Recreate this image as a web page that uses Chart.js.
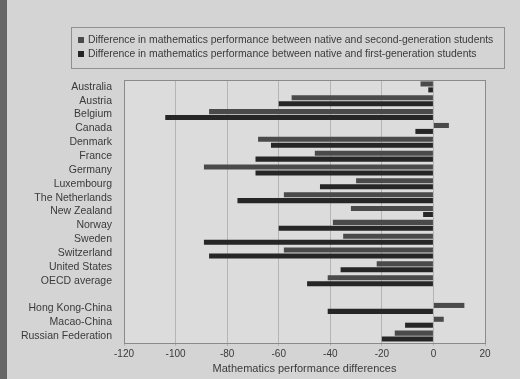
<!DOCTYPE html>
<html>
<head>
<meta charset="utf-8">
<script src="https://cdn.jsdelivr.net/npm/chart.js@4"></script>
<style>
  html, body { margin: 0; padding: 0; background: #d4d4d4; }
  #wrap { width: 520px; height: 379px; position: relative; }
</style>
</head>
<body>
<div id="wrap"><canvas id="grafico"></canvas></div>
<script>
// datos
const paises = ["Australia", "Austria", "Belgium", "Canada", "Denmark", "France", "Germany",
    "Luxembourg", "The Netherlands", "New Zealand", "Norway", "Sweden", "Switzerland",
    "United States", "OECD average", "", "Hong Kong-China", "Macao-China", "Russian Federation"];
const segundaGen = [-5, -55, -87, 6, -68, -46, -89, -30, -58, -32, -39, -35, -58, -22, -41, null, 12, 4, -15];
const primeraGen = [-2, -60, -104, -7, -63, -69, -69, -44, -76, -4, -60, -89, -87, -36, -49, null, -41, -11, -20];
const ticksX = [-120, -100, -80, -60, -40, -20, 0, 20];

const etiquetas = [
    "Difference in mathematics performance between native and second-generation students",
    "Difference in mathematics performance between native and first-generation students"
];
const colores = ["#4a4a4a", "#262626"];

const fondo = {
    id: "fondo",
    beforeDraw(chart) {
        const { ctx, chartArea: a } = chart;
        ctx.save();
        ctx.fillStyle = "#d4d4d4";
        ctx.fillRect(0, 0, chart.width, chart.height);
        ctx.fillStyle = "#666";
        ctx.fillRect(0, 0, 7, chart.height);
        ctx.fillStyle = "#dcdcdc";
        ctx.fillRect(a.left, a.top, a.right - a.left, a.bottom - a.top);
        ctx.restore();
    },
    afterDraw(chart) {
        const { ctx, chartArea: a } = chart;
        ctx.save();
        // borde del area
        ctx.strokeStyle = "#8a8a8a";
        ctx.lineWidth = 1;
        ctx.strokeRect(a.left + 0.5, a.top + 0.5, a.right - a.left, a.bottom - a.top);
        // leyenda
        ctx.strokeStyle = "#909090";
        ctx.strokeRect(71.5, 27.5, 433, 41);
        ctx.font = "10.4px 'Liberation Sans', Arial, sans-serif";
        ctx.textBaseline = "middle";
        chart.data.datasets.forEach((ds, i) => {
            const y = 40 + i * 14;
            ctx.fillStyle = ds.backgroundColor;
            ctx.fillRect(78, y - 3, 6, 6);
            ctx.fillStyle = "#3a3a3a";
            ctx.fillText(ds.label, 88, y);
        });
        ctx.restore();
    }
};

new Chart(document.getElementById("grafico"), {
    type: "bar",
    data: {
        labels: paises,
        datasets: [
            { label: etiquetas[0], data: segundaGen, backgroundColor: colores[0] },
            { label: etiquetas[1], data: primeraGen, backgroundColor: colores[1] }
        ]
    },
    options: {
        indexAxis: "y",
        responsive: true,
        maintainAspectRatio: false,
        animation: false,
        categoryPercentage: 0.86,
        barPercentage: 0.85,
        layout: { padding: { top: 80, right: 35, left: 8, bottom: 0 } },
        plugins: {
            legend: { display: false },
            tooltip: { enabled: false }
        },
        scales: {
            x: {
                min: -120,
                max: 20,
                afterBuildTicks: s => { s.ticks = ticksX.map(v => ({ value: v })); },
                afterFit: s => { s.height = 36; },
                grid: { color: "#b4b4b4", drawTicks: true, tickLength: 3 },
                border: { display: false },
                ticks: { color: "#3a3a3a", font: { size: 10, family: "'Liberation Sans', Arial" }, padding: 2 },
                title: {
                    display: true,
                    text: "Mathematics performance differences",
                    color: "#3a3a3a",
                    font: { size: 11, family: "'Liberation Sans', Arial" },
                    padding: { top: 0, bottom: 3 }
                }
            },
            y: {
                afterFit: s => { s.width = 116; },
                grid: { display: false },
                border: { display: false },
                ticks: { color: "#3a3a3a", font: { size: 10.5, family: "'Liberation Sans', Arial" }, padding: 4, autoSkip: false }
            }
        }
    },
    plugins: [fondo]
});
</script>
</body>
</html>
